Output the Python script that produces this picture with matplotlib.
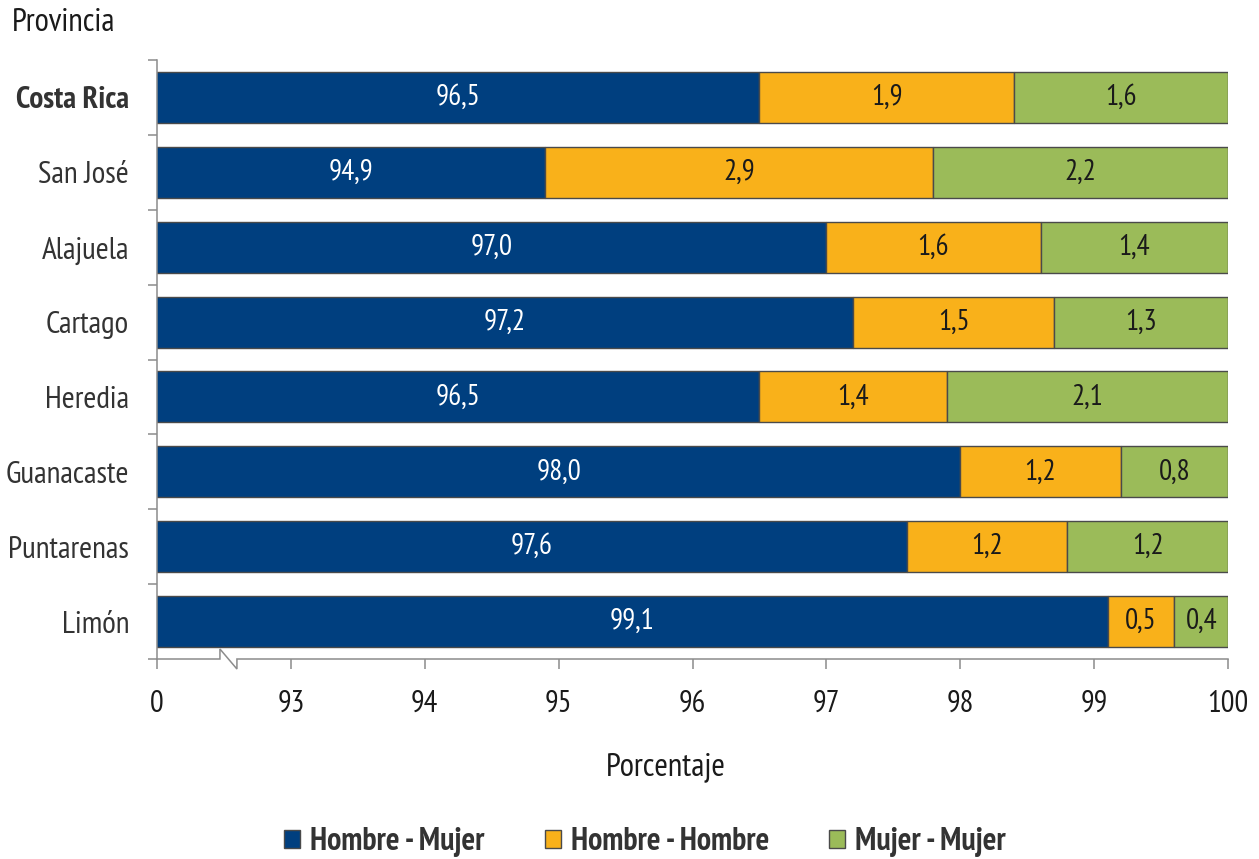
import matplotlib
matplotlib.use("Agg")
import matplotlib.pyplot as plt
import matplotlib.transforms as mtransforms
import numpy as np

provincias = ["Costa Rica", "San José", "Alajuela", "Cartago", "Heredia",
              "Guanacaste", "Puntarenas", "Limón"]
hombre_mujer = [96.5, 94.9, 97.0, 97.2, 96.5, 98.0, 97.6, 99.1]
hombre_hombre = [1.9, 2.9, 1.6, 1.5, 1.4, 1.2, 1.2, 0.5]
mujer_mujer = [1.6, 2.2, 1.4, 1.3, 2.1, 0.8, 1.2, 0.4]
series_names = ["Hombre - Mujer", "Hombre - Hombre", "Mujer - Mujer"]
x_ticks = [92, 93, 94, 95, 96, 97, 98, 99, 100]
x_ticklabels = ["0", "93", "94", "95", "96", "97", "98", "99", "100"]

colors = ["#003F7F", "#F9B11A", "#9BBB59"]
txt_colors = ["white", "#1a1a1a", "#1a1a1a"]
edge = "#4a4a4a"
axis_gray = "#8c8c8c"

plt.rcParams['font.family'] = ['PT Sans Narrow', 'DejaVu Sans']

fig = plt.figure(figsize=(12.59, 8.59), dpi=100)
ax = fig.add_axes([157/1259, 1-659/859, (1228-157)/1259, (659-60)/859])

y = np.arange(len(provincias))
hm = np.array(hombre_mujer)
hh = np.array(hombre_hombre)
mm = np.array(mujer_mujer)
h = 0.68
b1 = ax.barh(y, hm, left=0, height=h, color=colors[0], edgecolor=edge, linewidth=1.0, label=series_names[0])
b2 = ax.barh(y, hh, left=hm, height=h, color=colors[1], edgecolor=edge, linewidth=1.0, label=series_names[1])
b3 = ax.barh(y, mm, left=hm+hh, height=h, color=colors[2], edgecolor=edge, linewidth=1.0, label=series_names[2])

fs = 21
for i in range(len(provincias)):
    ax.text((x_ticks[0]+hm[i])/2, y[i], f"{hm[i]:.1f}".replace('.', ','), ha='center', va='center',
            color=txt_colors[0], fontsize=fs)
    ax.text(hm[i]+hh[i]/2, y[i], f"{hh[i]:.1f}".replace('.', ','), ha='center', va='center',
            color=txt_colors[1], fontsize=fs)
    ax.text(hm[i]+hh[i]+mm[i]/2, y[i], f"{mm[i]:.1f}".replace('.', ','), ha='center', va='center',
            color=txt_colors[2], fontsize=fs)

ax.set_xlim(92, 100)
ax.set_ylim(len(provincias)-0.5, -0.5)
ax.set_xticks(x_ticks)
ax.set_xticklabels(x_ticklabels, fontsize=22, color="#1a1a1a")
ax.set_yticks(y)
ax.set_yticklabels(provincias, fontsize=22.5, color="#333333")
ax.get_yticklabels()[0].set_fontweight('bold')
ax.set_yticks(np.arange(-0.5, len(provincias)), minor=True)
ax.tick_params(axis='y', which='major', length=0, pad=20)
ax.tick_params(axis='y', which='minor', length=6.5, width=1.1, color=axis_gray)
ax.tick_params(axis='x', which='major', length=7.2, width=1.1, color=axis_gray, pad=15)

for s in ['top', 'right', 'bottom']:
    ax.spines[s].set_visible(False)
ax.spines['left'].set_color(axis_gray)
ax.spines['left'].set_linewidth(1.1)

# bottom axis line with break mark
tr = mtransforms.blended_transform_factory(ax.transData, ax.transAxes)
dy = 10/599
xb1 = 92 + (220-157)/134
xb2 = 92 + (237-157)/134
ax.plot([92, xb1, xb1, xb2, xb2, 100], [0, 0, dy, -dy, 0, 0], transform=tr,
        color=axis_gray, lw=1.1, clip_on=False, solid_joinstyle='miter')

fig.text(12/1259, 1-23/859, "Provincia", fontsize=23.5, color="#1a1a1a", ha='left', va='center')
fig.text(666/1259, 1-768/859, "Porcentaje", fontsize=23.5, color="#1a1a1a", ha='center', va='center')

leg = fig.legend(handles=[b1, b2, b3], labels=series_names, loc='center', bbox_to_anchor=(645/1259, 1-842/859),
                 ncol=3, frameon=False, handlelength=0.5, handleheight=0.5,
                 columnspacing=1.9, handletextpad=0.3, prop={'family': ['PT Sans Narrow', 'DejaVu Sans'],
                                                             'weight': 'bold', 'size': 23})
for t in leg.get_texts():
    t.set_color("#333333")

fig.savefig("out.png", dpi=100)
